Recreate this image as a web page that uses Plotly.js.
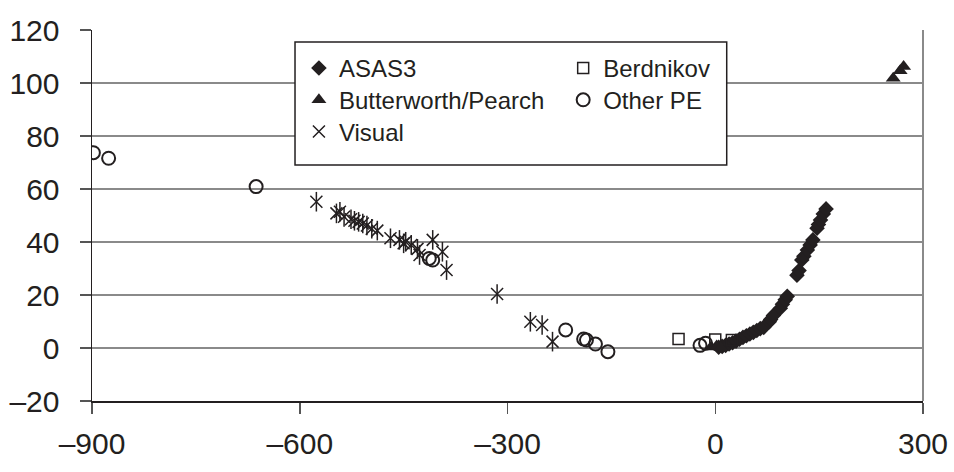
<!DOCTYPE html>
<html>
<head>
<meta charset="utf-8">
<script src="https://cdn.plot.ly/plotly-3.0.1.min.js"></script>
<style>
  html, body { margin: 0; padding: 0; background: #fff; }
  #chart { width: 954px; height: 472px; }
</style>
</head>
<body>
<div id="chart"></div>
<script>
// Observed minus predicted timings (days) against cycle number, by source.
const asas3X = [5, 10, 15, 20, 25, 30, 35, 40, 45, 50, 55, 60, 65, 70, 78, 80, 84, 94, 97, 101, 104,
                118, 121, 125, 128, 133, 137, 141, 147, 149, 152, 156, 160];
const asas3Y = [0.3, 0.6, 1.0, 1.5, 2.0, 2.6, 3.3, 4.0, 4.6, 5.3, 5.9, 6.6, 7.3, 7.8, 9.9, 10.8, 12.3, 15.0, 16.5, 18.2, 19.5,
                27.5, 29.2, 33.2, 34.6, 37.0, 38.9, 40.8, 45.2, 46.6, 48.3, 50.6, 52.5];

const berdnikovX = [-53, 0, 24];
const berdnikovY = [3.4, 3.2, 3.0];

const butterworthX = [-6, 2, 8, 257, 267, 272];
const butterworthY = [0.4, 0.8, 0.2, 101.8, 104.6, 106.2];

const otherPeX = [-898, -876, -663, -413, -408, -216, -190, -186, -173, -155, -22, -14];
const otherPeY = [73.7, 71.6, 60.9, 33.8, 33.2, 6.8, 3.4, 3.0, 1.5, -1.4, 1.0, 1.8];

const visualX = [-576, -547, -542, -536, -526, -521, -515, -509, -503, -496, -488, -469, -456, -450, -447,
                 -439, -430, -427, -408, -394, -388, -315, -267, -250, -235];
const visualY = [55.2, 50.8, 51.4, 49.5, 48.6, 48.0, 47.6, 47.0, 46.2, 45.0, 44.3, 41.4, 40.8, 39.5, 40.1,
                 38.9, 37.4, 35.1, 40.8, 36.3, 29.4, 20.4, 9.9, 8.7, 2.4];

const xTickVals = [-900, -600, -300, 0, 300];
const xTickText = ['\u2013900', '\u2013600', '\u2013300', '0', '300'];
const yTickVals = [-20, 0, 20, 40, 60, 80, 100, 120];
const yTickText = ['\u201320', '0', '20', '40', '60', '80', '100', '120'];

const ink = '#231f20';
const FONT = 'Liberation Sans, Arial, Helvetica, sans-serif';

const traces = [
  {
    name: 'ASAS3', x: asas3X, y: asas3Y, type: 'scatter', mode: 'markers', legend: 'legend',
    marker: { symbol: 'diamond', size: 12, color: ink }
  },
  {
    name: 'Berdnikov', x: berdnikovX, y: berdnikovY, type: 'scatter', mode: 'markers', legend: 'legend2',
    marker: { symbol: 'square-open', size: 11, color: ink, line: { color: ink, width: 1.5 } }
  },
  {
    name: 'Butterworth/Pearch', x: butterworthX, y: butterworthY, type: 'scatter', mode: 'markers', legend: 'legend3',
    marker: { symbol: 'triangle-up', size: 13, color: ink }
  },
  {
    name: 'Other PE', x: otherPeX, y: otherPeY, type: 'scatter', mode: 'markers', legend: 'legend4',
    marker: { symbol: 'circle-open', size: 13, color: ink, line: { color: ink, width: 2 } }
  },
  {
    name: 'Visual', x: visualX, y: visualY, type: 'scatter', mode: 'markers', legend: 'legend5',
    marker: { symbol: 'x-thin-open', size: 12, color: ink, line: { color: ink, width: 1.5 } }
  },
  {
    // vertical stroke completing the six-armed star marker
    name: 'Visual', x: visualX, y: visualY, type: 'scatter', mode: 'markers', showlegend: false,
    marker: { symbol: 'line-ns-open', size: 14, color: ink, line: { color: ink, width: 1.5 } }
  }
];

// one legend per entry so the two-column grid sits exactly inside the box
function legendAt(x, y) {
  return {
    x: x, y: y, orientation: 'v', xanchor: 'left', yanchor: 'top',
    bgcolor: 'rgba(0,0,0,0)', borderwidth: 0,
    font: { family: FONT, size: 24, color: ink },
    itemclick: false, itemdoubleclick: false
  };
}
const col1 = 0.249, col2 = 0.567;
const row1 = 0.957, row2 = 0.8714, row3 = 0.786;

const layout = {
  width: 954, height: 472,
  margin: { l: 92, r: 31, t: 30, b: 71 },
  paper_bgcolor: '#fff', plot_bgcolor: '#fff',
  font: { family: FONT, color: ink },
  showlegend: true,
  legend: legendAt(col1, row1),
  legend2: legendAt(col2, row1),
  legend3: legendAt(col1, row2),
  legend4: legendAt(col2, row2),
  legend5: legendAt(col1, row3),
  xaxis: {
    range: [-900, 300], tickmode: 'array', tickvals: xTickVals, ticktext: xTickText,
    showgrid: false, zeroline: false,
    showline: true, linecolor: ink, linewidth: 1.5,
    ticks: 'outside', ticklen: 11, tickwidth: 1.5, tickcolor: '#555',
    tickfont: { family: FONT, size: 30, color: ink },
    ticklabelstandoff: 4
  },
  yaxis: {
    range: [-20, 120], tickmode: 'array', tickvals: yTickVals, ticktext: yTickText,
    showgrid: true, gridcolor: '#8a8a8a', gridwidth: 2, zeroline: false,
    showline: true, linecolor: ink, linewidth: 1.5,
    ticks: 'outside', ticklen: 11, tickwidth: 1.5, tickcolor: '#555',
    tickfont: { family: FONT, size: 30, color: ink },
    ticklabelstandoff: 14
  },
  shapes: [
    // right-hand frame edge
    { type: 'line', xref: 'paper', yref: 'paper', x0: 1, x1: 1, y0: 0, y1: 1,
      line: { color: '#8a8a8a', width: 2 }, layer: 'above' },
    // box enclosing the legend grid
    { type: 'rect', xref: 'paper', yref: 'paper', x0: 0.2443, x1: 0.7638, y0: 0.636, y1: 0.9677,
      fillcolor: '#fff', line: { color: ink, width: 1.5 }, layer: 'above' }
  ]
};

Plotly.newPlot('chart', traces, layout, { displayModeBar: false, staticPlot: true });
</script>
</body>
</html>
